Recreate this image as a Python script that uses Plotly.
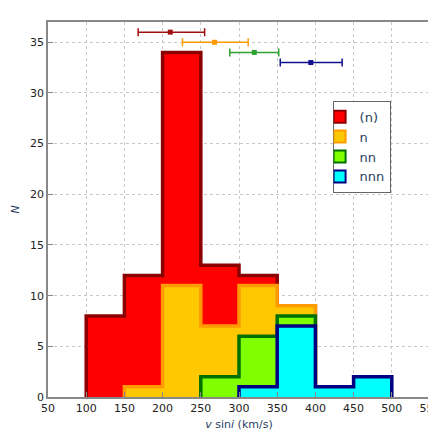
import plotly.graph_objects as go

edges = [100,150,200,250,300,350,400,450,500]
c_n0 = [8,12,34,13,12,9,0,0]
c_n1 = [0,1,11,7,11,9,0,0]
c_n2 = [0,0,0,2,6,8,0,0]
c_n3 = [0,0,0,0,1,7,1,2]
names = ["(n)","n","nn","nnn"]
fills = ["#ff0000","#ffc800","#80ff00","#00ffff"]
lines = ["#8b0000","#ff9a00","#007000","#000080"]
err_x = [210,268,320,394]
err_lo = [168,226,288,354]
err_hi = [255,312,352,435]
err_y = [36,35,34,33]
errc = ["#a01010","#ff9900","#30a030","#101090"]

def step(counts):
    xs, ys = [], []
    nz = [i for i,c in enumerate(counts) if c>0]
    a, b = nz[0], nz[-1]
    xs.append(edges[a]); ys.append(0)
    for i in range(a, b+1):
        xs += [edges[i], edges[i+1]]; ys += [counts[i], counts[i]]
    xs.append(edges[b+1]); ys.append(0)
    return xs, ys

fig = go.Figure()
for cnt, nm, f, l in zip([c_n0,c_n1,c_n2,c_n3], names, fills, lines):
    xs, ys = step(cnt)
    fig.add_trace(go.Scatter(x=xs, y=ys, fill="toself", fillcolor=f, mode="lines",
                             line=dict(color=l, width=3.5), showlegend=False))
for i in range(4):
    fig.add_trace(go.Scatter(x=[err_x[i]], y=[err_y[i]], mode="markers",
        marker=dict(color=errc[i], size=5, symbol="square"),
        error_x=dict(type="data", symmetric=False, array=[err_hi[i]-err_x[i]],
                     arrayminus=[err_x[i]-err_lo[i]], color=errc[i], thickness=1.5, width=4),
        showlegend=False))
for nm, f, l in zip(names, fills, lines):
    fig.add_trace(go.Scatter(x=[None], y=[None], mode="markers", name=nm,
        marker=dict(symbol="square", size=10, color=f, line=dict(color=l, width=2.5))))

ax = dict(showline=True, mirror=True, linecolor="#888", linewidth=1.5, ticks="inside",
          tickcolor="#888", showgrid=True, gridcolor="#c8c8c8", griddash="dot", zeroline=False,
          tickfont=dict(size=11, color="#222"), automargin=False)
fig.update_layout(width=436, height=436, margin=dict(l=40, r=14, t=14, b=47),
    plot_bgcolor="white", paper_bgcolor="white", font=dict(family="DejaVu Sans"),
    xaxis=dict(range=[50,550], dtick=50, title=dict(text="<i>v</i> sin<i>i</i> (km/s)", font=dict(size=11), standoff=6), **ax),
    yaxis=dict(range=[0,37], dtick=5, title=dict(text="<i>N</i>", font=dict(size=11), standoff=8), **ax),
    legend=dict(x=0.745, y=0.79, xanchor="left", yanchor="top", bordercolor="#666", borderwidth=1,
                bgcolor="white", font=dict(size=13), itemsizing="constant", tracegroupgap=0,
                itemwidth=30, indentation=-14))
fig.write_html("out.html")
